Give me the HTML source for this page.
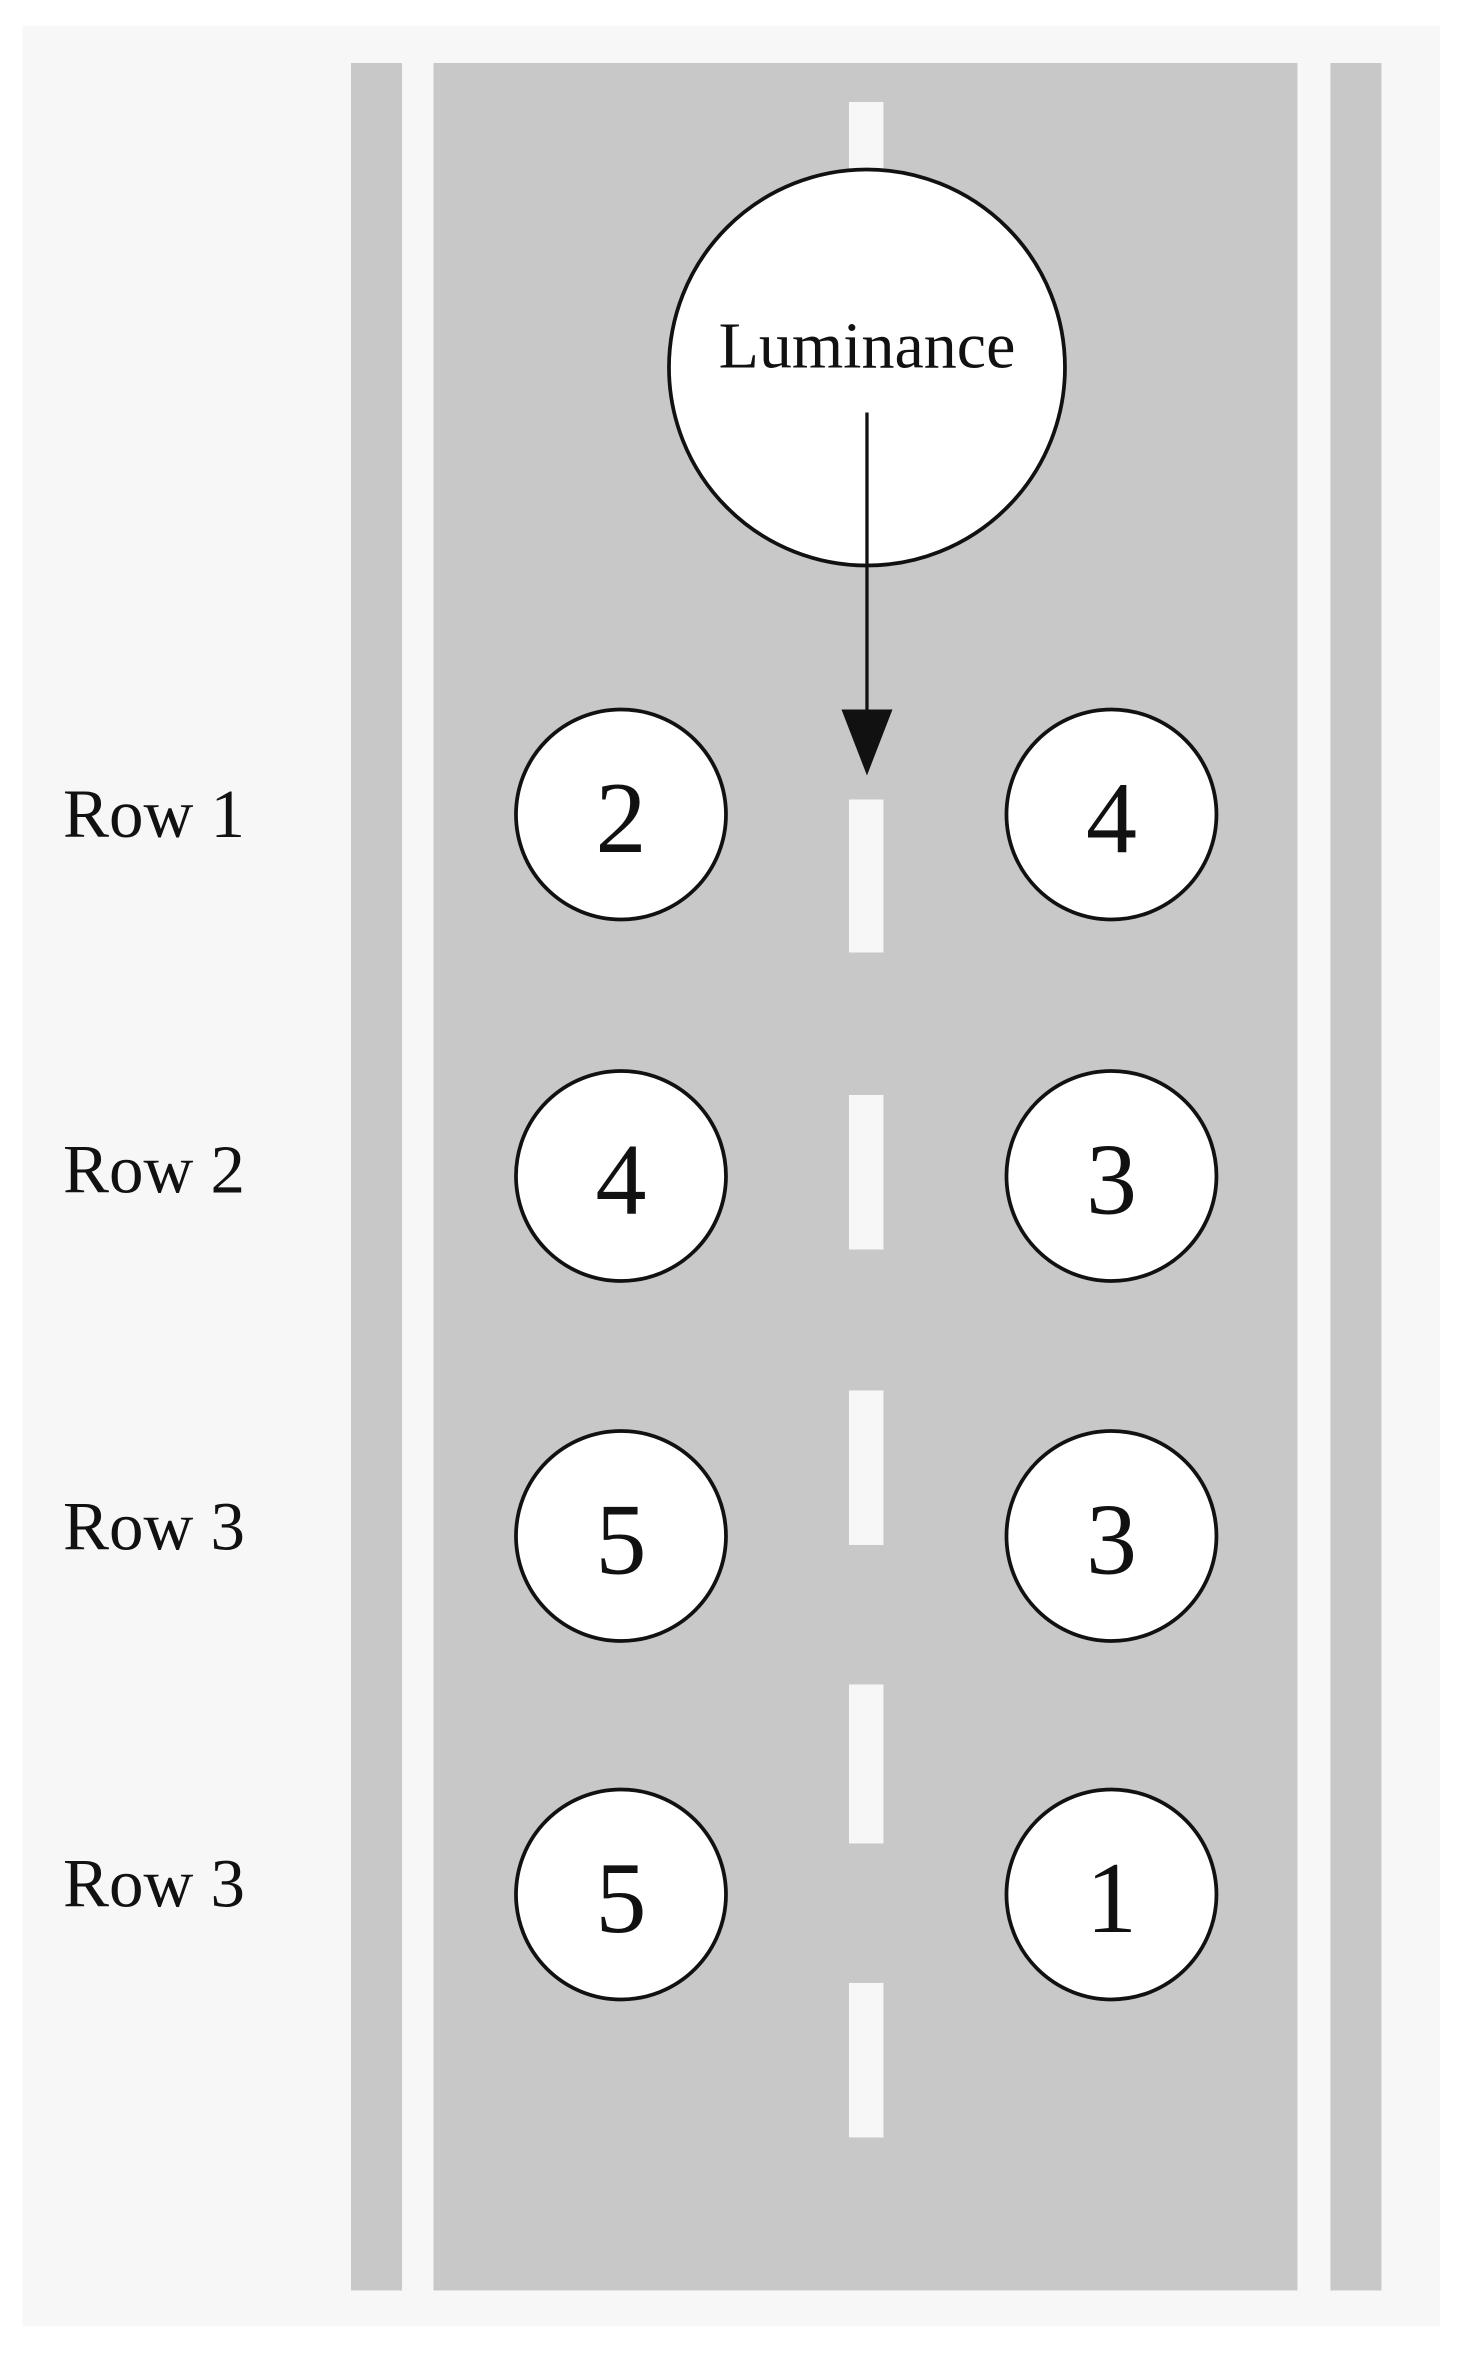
<!DOCTYPE html>
<html><head><meta charset="utf-8"><style>
html,body{margin:0;padding:0;background:#fff;}
svg{display:block;}
text{font-family:"Liberation Serif","DejaVu Serif",serif;fill:#111;}
</style></head><body>
<svg width="1465" height="2359" viewBox="0 0 976.7 1572.7" xmlns="http://www.w3.org/2000/svg">
<rect x="0" y="0" width="976.7" height="1572.7" fill="#ffffff"/>
<rect x="15" y="17" width="945" height="1534" fill="#f7f7f7"/>
<rect x="234" y="42" width="34" height="1485" fill="#c8c8c8"/>
<rect x="289" y="42" width="576" height="1485" fill="#c8c8c8"/>
<rect x="887" y="42" width="34" height="1485" fill="#c8c8c8"/>
<g fill="#f7f7f7">
<rect x="566" y="68" width="23" height="50"/>
<rect x="566" y="533" width="23" height="102"/>
<rect x="566" y="730" width="23" height="103"/>
<rect x="566" y="927" width="23" height="103"/>
<rect x="566" y="1123" width="23" height="106"/>
<rect x="566" y="1322" width="23" height="103"/>
</g>
<circle cx="578" cy="245" r="132" fill="#fff" stroke="#111" stroke-width="2.5"/>
<text x="578" y="245" font-size="44" text-anchor="middle">Luminance</text>
<line x1="578" y1="275" x2="578" y2="476" stroke="#111" stroke-width="2.2"/>
<polygon points="561,473 595,473 578,517" fill="#111"/>
<g fill="#fff" stroke="#111" stroke-width="2.5">
<circle cx="414" cy="543" r="70"/><circle cx="741" cy="543" r="70"/>
<circle cx="414" cy="784" r="70"/><circle cx="741" cy="784" r="70"/>
<circle cx="414" cy="1024" r="70"/><circle cx="741" cy="1024" r="70"/>
<circle cx="414" cy="1263" r="70"/><circle cx="741" cy="1263" r="70"/>
</g>
<g font-size="68" text-anchor="middle">
<text x="414" y="568">2</text><text x="741" y="568">4</text>
<text x="414" y="809">4</text><text x="741" y="809">3</text>
<text x="414" y="1049">5</text><text x="741" y="1049">3</text>
<text x="414" y="1288">5</text><text x="741" y="1288">1</text>
</g>
<g font-size="46">
<text x="42" y="558">Row 1</text>
<text x="42" y="795">Row 2</text>
<text x="42" y="1033">Row 3</text>
<text x="42" y="1271">Row 3</text>
</g>
</svg>
</body></html>
